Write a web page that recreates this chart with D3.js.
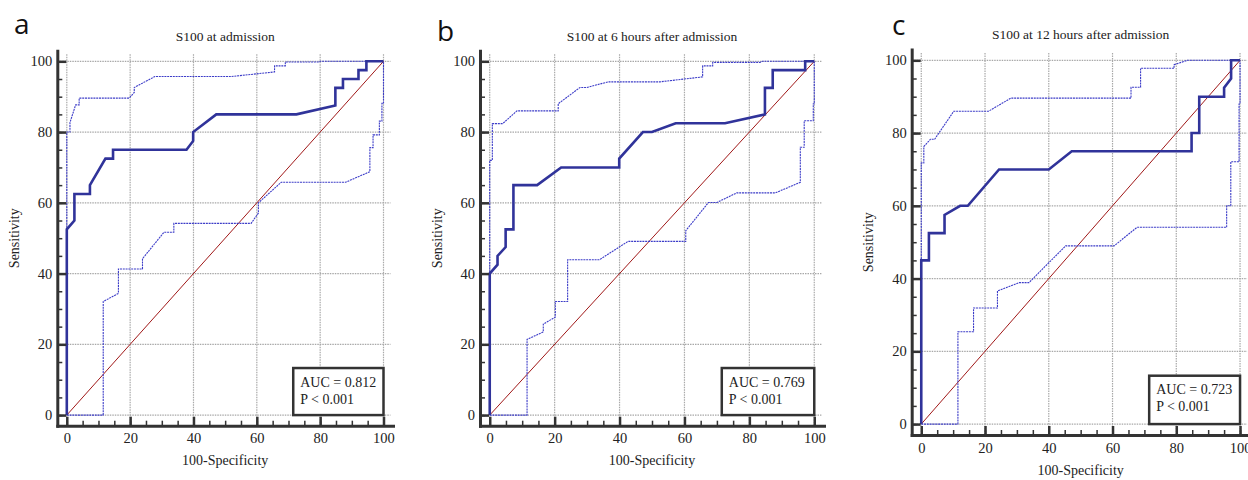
<!DOCTYPE html>
<html>
<head>
<meta charset="utf-8">
<script src="https://cdn.jsdelivr.net/npm/d3@7"></script>
<style>
  body { margin: 0; background: #fff; }
  svg { display: block; }
</style>
</head>
<body>
<div id="chart"></div>
<script>
// ROC curves for S100, three time points. x = 100-Specificity, y = Sensitivity

const panelLetters = ["a", "b", "c"];
const titles = ["S100 at admission", "S100 at 6 hours after admission", "S100 at 12 hours after admission"];
const aucValues = ["0.812", "0.769", "0.723"];
const pValues = ["0.001", "0.001", "0.001"];
const majorTicks = [0, 20, 40, 60, 80, 100];
const minorTicks = [0, 5, 10, 15, 20, 25, 30, 35, 40, 45, 50, 55, 60, 65, 70, 75, 80, 85, 90, 95, 100];

// panel a
const rocA = [[0,0],[0,52.5],[2.4,55],[2.4,62.5],[7.3,62.5],[7.3,65],[12.2,72.5],[14.6,72.5],[14.6,75],[37.8,75],[39.9,77.5],[39.9,80],[47.2,85],[72.5,85],[84.8,87.5],[84.8,92.5],[87.2,92.5],[87.2,95],[92.1,95],[92.1,97.5],[94.6,97.5],[94.6,100],[100,100]];
const upperA = [[0,0],[0,80],[1,80],[1,82.7],[2.8,87.7],[3.9,87.7],[3.9,89.6],[19.7,89.6],[21.3,91.2],[21.3,92.6],[27.8,95.7],[52,95.7],[65.6,97],[65.6,98.7],[69,98.7],[69,99.8],[79.5,99.8],[80,100],[100,100]];
const lowerA = [[0,0],[11.5,0],[11.5,32.1],[16.3,34.4],[16.3,41.3],[23.9,41.3],[23.9,44.2],[30.7,51.7],[33.8,51.7],[33.8,54.2],[58.2,54.2],[60.5,57.1],[60.5,60],[67.7,65.8],[88,65.8],[95.7,68.8],[95.7,75.6],[96.7,75.6],[96.7,79.2],[98.7,79.2],[98.7,83.1],[99.5,83.1],[99.5,88.1],[100,88.1],[100,100]];

// panel b
const rocB = [[0,0],[0,40],[2.4,42.5],[2.4,45],[4.9,47.5],[4.9,52.5],[7.3,52.5],[7.3,65],[14.6,65],[22,70],[39.9,70],[39.9,72.5],[47.2,80],[50,80],[57.3,82.5],[72.5,82.5],[84.8,85],[84.8,92.5],[87.2,92.5],[87.2,97.5],[97.2,97.5],[97.2,100],[100,100]];
const upperB = [[0,0],[0,72],[0.8,72],[0.8,82.4],[4,82.4],[8.4,86],[21.1,86],[21.1,88],[27.8,92.6],[29.9,92.6],[36.5,94.2],[52.5,94.2],[65.6,95.6],[65.6,98.7],[68.7,98.7],[68.7,99.7],[83.3,99.7],[84,100],[100,100]];
const lowerB = [[0,0],[11.5,0],[11.5,21.4],[16.5,23.5],[16.5,25.7],[20.2,27.7],[20.2,32.1],[24,32.1],[24,43.9],[33.8,43.9],[42.6,49.1],[60.4,49.1],[60.4,52.1],[67.4,60.1],[70,60.1],[76.1,62.8],[88,62.8],[95.7,65.8],[95.7,75.7],[96.9,75.7],[96.9,83.2],[99.7,83.2],[99.7,88],[100,88],[100,100]];

// panel c
const rocC = [[0,0],[0,45],[2.4,45],[2.4,52.5],[7.3,52.5],[7.3,57.5],[12.2,60],[14.6,60],[24.4,70],[40,70],[47.2,75],[84.8,75],[84.8,80],[87.2,80],[87.2,90],[95,90],[95,92.5],[97.2,95],[97.2,100],[100,100]];
const upperC = [[0,0],[0,71.8],[0.8,71.8],[0.8,76.3],[2.9,78.3],[4.2,78.3],[10.2,86],[21.1,86],[28.1,89.6],[65.8,89.6],[65.8,92.6],[68.8,92.6],[68.8,97.8],[79.3,97.8],[79.3,98.8],[83.5,100],[100,100]];
const lowerC = [[0,0],[11.5,0],[11.5,25.4],[16.4,25.4],[16.4,31.9],[23.9,31.9],[23.9,36.6],[30.7,38.9],[33.8,38.9],[45.3,49],[60.5,49],[67.7,54.1],[95.8,54.1],[95.8,60],[97.1,60],[97.1,72.1],[99.7,72.1],[99.7,88],[100,88],[100,100]];

const panels = [
  { left: 57.3, right: 393, top: 50.7, bottom: 425.7, letterX: 14, letterY: 34, titleY: 41, roc: rocA, upper: upperA, lower: lowerA },
  { left: 480, right: 824, top: 50.7, bottom: 425.7, letterX: 437, letterY: 41, titleY: 41, roc: rocB, upper: upperB, lower: lowerB },
  { left: 911.7, right: 1249.6, top: 49.4, bottom: 435, letterX: 892, letterY: 35, titleY: 39, roc: rocC, upper: upperC, lower: lowerC }
];

const serif = '"Liberation Serif", "Times New Roman", serif';
const axisColor = "#333";

const svg = d3.select("#chart").append("svg")
  .attr("width", 1248)
  .attr("height", 480)
  .style("background", "#fff");

panels.forEach((p, i) => {
  const x = d3.scaleLinear().domain([-3, 103]).range([p.left, p.right]);
  const y = d3.scaleLinear().domain([-3, 103]).range([p.bottom, p.top]);
  const g = svg.append("g");

  // dotted grid
  g.selectAll(".vgrid").data(majorTicks).enter().append("line")
    .attr("x1", d => x(d)).attr("x2", d => x(d))
    .attr("y1", y(102)).attr("y2", y(-3))
    .attr("stroke", "#a8a8a8").attr("stroke-width", 1.2).attr("stroke-dasharray", "1.5,1");
  g.selectAll(".hgrid").data(majorTicks).enter().append("line")
    .attr("x1", x(-3)).attr("x2", x(102.2))
    .attr("y1", d => y(d)).attr("y2", d => y(d))
    .attr("stroke", "#a8a8a8").attr("stroke-width", 1.2).attr("stroke-dasharray", "1.5,1");

  const line = d3.line().x(d => x(d[0])).y(d => y(d[1]));

  // reference diagonal
  g.append("path").datum([[0, 0], [100, 100]])
    .attr("d", line).attr("fill", "none")
    .attr("stroke", "#a01818").attr("stroke-width", 1);

  // confidence bounds
  [p.upper, p.lower].forEach(ci => {
    g.append("path").datum(ci)
      .attr("d", line).attr("fill", "none")
      .attr("stroke", "#3c3cc8").attr("stroke-width", 1.1)
      .attr("stroke-dasharray", "2,0.8");
  });

  // ROC curve
  g.append("path").datum(p.roc)
    .attr("d", line).attr("fill", "none")
    .attr("stroke", "#30339a").attr("stroke-width", 2.6)
    .attr("stroke-linejoin", "miter");

  // axes: minor ticks, then major ticks with labels
  const xMinor = g.append("g").attr("transform", `translate(0,${p.bottom})`)
    .call(d3.axisBottom(x).tickValues(minorTicks).tickSize(-5).tickSizeOuter(0).tickFormat(""));
  xMinor.select(".domain").remove();
  xMinor.selectAll(".tick line").attr("stroke", axisColor).attr("stroke-width", 1.5);

  const yMinor = g.append("g").attr("transform", `translate(${p.left},0)`)
    .call(d3.axisLeft(y).tickValues(minorTicks).tickSize(-5).tickSizeOuter(0).tickFormat(""));
  yMinor.select(".domain").remove();
  yMinor.selectAll(".tick line").attr("stroke", axisColor).attr("stroke-width", 1.5);

  const xAxis = g.append("g").attr("transform", `translate(0,${p.bottom})`)
    .call(d3.axisBottom(x).tickValues(majorTicks).tickSize(-9).tickSizeOuter(0).tickPadding(7.5));
  const yAxis = g.append("g").attr("transform", `translate(${p.left},0)`)
    .call(d3.axisLeft(y).tickValues(majorTicks).tickSize(-9).tickSizeOuter(0).tickPadding(5));

  [xAxis, yAxis].forEach(ax => {
    ax.select(".domain").attr("stroke", axisColor).attr("stroke-width", 3).attr("stroke-linecap", "square");
    ax.selectAll(".tick line").attr("stroke", axisColor).attr("stroke-width", 2.5);
    ax.selectAll(".tick text")
      .attr("font-family", serif).attr("font-size", 14.5).attr("fill", "#222");
  });

  // AUC box
  const bx0 = x(71.5), bx1 = x(100), by0 = y(13.3), by1 = y(0);
  g.append("rect")
    .attr("x", bx0).attr("y", by0)
    .attr("width", bx1 - bx0).attr("height", by1 - by0)
    .attr("fill", "#fff").attr("stroke", axisColor).attr("stroke-width", 2.5);
  g.append("text")
    .attr("x", bx0 + 7).attr("y", by0 + 18.5)
    .attr("font-family", serif).attr("font-size", 14).attr("fill", "#222")
    .text(`AUC = ${aucValues[i]}`);
  g.append("text")
    .attr("x", bx0 + 7).attr("y", by0 + 35.5)
    .attr("font-family", serif).attr("font-size", 14).attr("fill", "#222")
    .text(`P < ${pValues[i]}`);

  // titles and labels
  const midX = (p.left + p.right) / 2;
  const midY = (p.top + p.bottom) / 2;
  g.append("text")
    .attr("x", midX).attr("y", p.titleY)
    .attr("text-anchor", "middle")
    .attr("font-family", serif).attr("font-size", 13.5).attr("fill", "#222")
    .text(titles[i]);
  g.append("text")
    .attr("x", midX).attr("y", p.bottom + 39.5)
    .attr("text-anchor", "middle")
    .attr("font-family", serif).attr("font-size", 14).attr("fill", "#222")
    .text("100-Specificity");
  g.append("text")
    .attr("transform", `translate(${p.left - 38.5},${midY}) rotate(-90)`)
    .attr("text-anchor", "middle")
    .attr("font-family", serif).attr("font-size", 14).attr("fill", "#222")
    .text("Sensitivity");
  g.append("text")
    .attr("x", p.letterX).attr("y", p.letterY)
    .attr("font-family", '"Open Sans", "Liberation Sans", sans-serif')
    .attr("font-size", 28).attr("fill", "#111")
    .text(panelLetters[i]);
});
</script>
</body>
</html>
